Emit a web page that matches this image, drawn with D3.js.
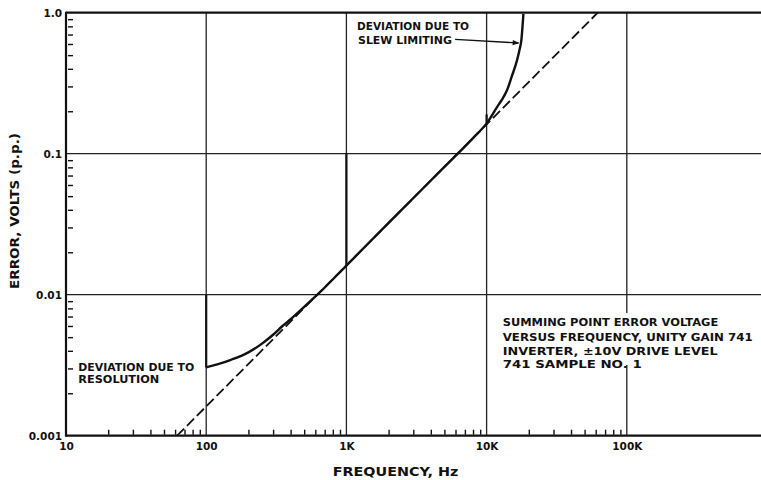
<!DOCTYPE html>
<html><head><meta charset="utf-8">
<script src="https://cdn.jsdelivr.net/npm/d3@7"></script>
<style>html,body{margin:0;padding:0;background:#fff;} svg{display:block;}</style>
</head><body><svg id="c" width="761" height="480"></svg>
<script>
// ---------- data ----------
const xMajorTicks = [10, 100, 1000, 10000, 100000];
const xMajorLabels = ["10", "100", "1K", "10K", "100K"];
const yMajorTicks = [0.001, 0.01, 0.1, 1];
const yMajorLabels = ["0.001", "0.01", "0.1", "1.0"];
const xGridValues = [100, 1000, 10000, 100000];
const yGridValues = [0.01, 0.1];
const minorMultipliers = [2, 3, 4, 5, 6, 7, 8, 9];
const xMinorDecades = [10, 100, 1000, 10000];
const yMinorDecades = [0.001, 0.01, 0.1];

// measured summing-point error (solid curve)
const measuredFreq  = [100, 120, 150, 200, 250, 300, 350, 400, 500, 634, 1000, 2000, 5000, 8000, 10000, 11900, 12800, 14000, 15100, 16500, 17200, 17700, 18300];
const measuredError = [0.00305, 0.0032, 0.00345, 0.0039, 0.0045, 0.0052, 0.0060, 0.0067, 0.0082, 0.0102, 0.0161, 0.0323, 0.0806, 0.129, 0.164, 0.215, 0.24, 0.283, 0.352, 0.462, 0.55, 0.64, 0.98];
// ideal error (dashed line)
const idealFreq  = [62, 62000];
const idealError = [0.001, 1.0];
// vertical range-change marks on the solid trace
const markFreq = [100, 1000, 10000];
const markLow  = [0.00305, 0.0161, 0.16];
const markHigh = [0.01, 0.1, 0.19];

// ---------- layout ----------
const svg = d3.select("#c");
const W = 761, H = 480;
const pL = 66, pR = 761, pT = 12.7, pB = 435.7;
const FONT = "'DejaVu Sans', sans-serif";

const x = d3.scaleLog().domain([10, 906000]).range([pL, pR]);
const y = d3.scaleLog().domain([0.001, 1]).range([pB, pT]);

svg.append("rect").attr("width", W).attr("height", H).attr("fill", "#fff");

const ink = "#111";

// gridlines
const grid = svg.append("g").attr("stroke", "#222").attr("stroke-width", 1.3);
grid.selectAll("line.h").data(yGridValues).join("line")
  .attr("x1", pL).attr("x2", pR)
  .attr("y1", d => y(d)).attr("y2", d => y(d));
const noteGapTop = 313, noteGapBottom = 365;
xGridValues.forEach(v => {
  if (v === 100000) {
    grid.append("line").attr("x1", x(v)).attr("x2", x(v)).attr("y1", pT).attr("y2", noteGapTop);
    grid.append("line").attr("x1", x(v)).attr("x2", x(v)).attr("y1", noteGapBottom).attr("y2", pB);
  } else {
    grid.append("line").attr("x1", x(v)).attr("x2", x(v)).attr("y1", pT).attr("y2", pB);
  }
});

// frame
const frame = svg.append("g").attr("stroke", ink).attr("stroke-width", 2.2).attr("fill", "none");
frame.append("line").attr("x1", pL).attr("x2", pR).attr("y1", pT).attr("y2", pT);
frame.append("line").attr("x1", pL).attr("x2", pR).attr("y1", pB).attr("y2", pB);
frame.append("line").attr("x1", pL).attr("x2", pL).attr("y1", pT - 1).attr("y2", pB + 1);

// minor ticks x (inside, upward)
const xMinor = [];
xMinorDecades.forEach(d => minorMultipliers.forEach(m => xMinor.push(d * m)));
const xMinorAxis = d3.axisBottom(x).tickValues(xMinor).tickSize(-5).tickFormat("");
const gxm = svg.append("g").attr("transform", `translate(0,${pB - 1})`).call(xMinorAxis);
gxm.select(".domain").remove();
gxm.selectAll("line").attr("stroke", ink).attr("stroke-width", 1.4);

// minor ticks y (short dashes just inside axis)
const yMinor = [];
yMinorDecades.forEach(d => minorMultipliers.forEach(m => yMinor.push(d * m)));
const yMinorAxis = d3.axisLeft(y).tickValues(yMinor).tickSize(-5).tickFormat("");
const gym = svg.append("g").attr("transform", `translate(${pL + 2},0)`).call(yMinorAxis);
gym.select(".domain").remove();
gym.selectAll("line").attr("stroke", ink).attr("stroke-width", 1.4);

// major labels
const xAxis = d3.axisBottom(x).tickValues(xMajorTicks).tickSize(0).tickPadding(7)
  .tickFormat((d, i) => xMajorLabels[i]);
const gx = svg.append("g").attr("transform", `translate(0,${pB})`).call(xAxis);
gx.select(".domain").remove();
gx.selectAll("text").attr("font-family", FONT).attr("font-weight", "bold").attr("font-size", 10.5).attr("fill", ink);

const yAxis = d3.axisLeft(y).tickValues(yMajorTicks).tickSize(0).tickPadding(4)
  .tickFormat((d, i) => yMajorLabels[i]);
const gy = svg.append("g").attr("transform", `translate(${pL},0)`).call(yAxis);
gy.select(".domain").remove();
gy.selectAll("text").attr("font-family", FONT).attr("font-weight", "bold").attr("font-size", 10.5).attr("fill", ink);

// ideal dashed line
const idealPts = idealFreq.map((f, i) => [f, idealError[i]]);
svg.append("path").datum(idealPts)
  .attr("d", d3.line().x(d => x(d[0])).y(d => y(d[1])))
  .attr("fill", "none").attr("stroke", ink).attr("stroke-width", 1.8)
  .attr("stroke-dasharray", "10,4");

// measured solid curve
const measPts = measuredFreq.map((f, i) => [f, measuredError[i]]);
svg.append("path").datum(measPts)
  .attr("d", d3.line().x(d => x(d[0])).y(d => y(d[1])).curve(d3.curveMonotoneX))
  .attr("fill", "none").attr("stroke", ink).attr("stroke-width", 2.4).attr("stroke-linejoin", "round");

// vertical marks
svg.append("g").selectAll("line").data(markFreq).join("line")
  .attr("x1", d => x(d)).attr("x2", d => x(d))
  .attr("y1", (d, i) => y(markLow[i])).attr("y2", (d, i) => y(markHigh[i]))
  .attr("stroke", ink).attr("stroke-width", 2.2);

// text helper
function label(tx, ty, str, size, anchor, width) {
  const t = svg.append("text").attr("x", tx).attr("y", ty).text(str)
    .attr("font-family", FONT).attr("font-weight", "bold").attr("font-size", size)
    .attr("fill", ink).attr("text-anchor", anchor || "start");
  if (width) t.attr("textLength", width).attr("lengthAdjust", "spacingAndGlyphs");
  return t;
}

// annotation: slew limiting
label(469, 29.5, "DEVIATION DUE TO", 10, "end", 112);
label(452, 43.5, "SLEW LIMITING", 10, "end", 94);
const arrowTail = [x(5960), 39.3], arrowTip = [x(16900), 43];
svg.append("defs").append("marker").attr("id", "ah").attr("viewBox", "0 0 10 10")
  .attr("refX", 9).attr("refY", 5).attr("markerWidth", 7).attr("markerHeight", 5).attr("orient", "auto")
  .append("path").attr("d", "M0,1 L10,5 L0,9 z").attr("fill", ink);
svg.append("line").attr("x1", arrowTail[0]).attr("y1", arrowTail[1]).attr("x2", arrowTip[0]).attr("y2", arrowTip[1])
  .attr("stroke", ink).attr("stroke-width", 1.3).attr("marker-end", "url(#ah)");

// annotation: resolution
label(78.3, 370.5, "DEVIATION DUE TO", 10.5, "start", 116);
label(78.3, 383, "RESOLUTION", 10.5, "start", 81);

// note
label(502.7, 326, "SUMMING POINT ERROR VOLTAGE", 10, "start", 215.6);
label(502.7, 341.3, "VERSUS FREQUENCY, UNITY GAIN 741", 10, "start", 250);
label(502.7, 354.5, "INVERTER,  \u00B110V DRIVE LEVEL", 10, "start", 215);
label(502.7, 368, "741 SAMPLE NO. 1", 10, "start", 139);

// axis titles
label(395.5, 475.5, "FREQUENCY, Hz", 13, "middle", 125.6);
svg.append("text").attr("transform", "translate(18.5,211) rotate(-90)").text("ERROR, VOLTS (p.p.)")
  .attr("font-family", FONT).attr("font-weight", "bold").attr("font-size", 12)
  .attr("fill", ink).attr("text-anchor", "middle").attr("textLength", 156).attr("lengthAdjust", "spacingAndGlyphs");
</script>
</body></html>
